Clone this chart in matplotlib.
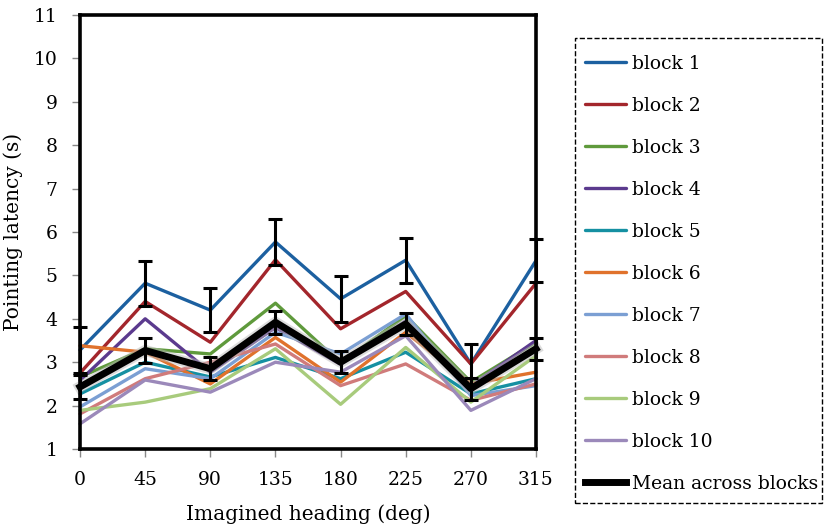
import matplotlib
matplotlib.use("Agg")
import matplotlib.pyplot as plt
import matplotlib.patheffects as pe
from matplotlib.patches import Rectangle

plt.rcParams['font.family'] = ['DejaVu Serif']

headings = [0, 45, 90, 135, 180, 225, 270, 315]

block_labels = ['block 1', 'block 2', 'block 3', 'block 4', 'block 5',
                'block 6', 'block 7', 'block 8', 'block 9', 'block 10']
block_colors = ['#1c60a0', '#a3262c', '#5f9a3c', '#5b3a8e', '#1590a2',
                '#e0722c', '#7b9fd3', '#d07b7b', '#a8cb7c', '#9b89ba']

block1 = [3.28, 4.82, 4.20, 5.77, 4.46, 5.35, 2.96, 5.34]
block2 = [2.75, 4.40, 3.46, 5.36, 3.77, 4.63, 2.96, 4.82]
block3 = [2.66, 3.31, 3.19, 4.36, 2.98, 4.07, 2.54, 3.46]
block4 = [2.58, 4.00, 2.77, 3.80, 2.95, 3.95, 2.45, 3.50]
block5 = [2.27, 3.00, 2.66, 3.11, 2.62, 3.23, 2.27, 2.62]
block6 = [3.38, 3.23, 2.50, 3.57, 2.54, 3.69, 2.50, 2.77]
block7 = [1.97, 2.85, 2.62, 3.69, 3.19, 4.11, 2.23, 2.46]
block8 = [1.81, 2.62, 3.00, 3.42, 2.46, 2.96, 2.12, 2.50]
block9 = [1.89, 2.08, 2.39, 3.31, 2.03, 3.34, 2.08, 3.15]
block10 = [1.58, 2.59, 2.31, 3.00, 2.77, 3.61, 1.89, 2.62]
blocks = [block1, block2, block3, block4, block5,
          block6, block7, block8, block9, block10]

mean_blocks = [2.43, 3.27, 2.85, 3.92, 3.00, 3.88, 2.39, 3.31]

block1_err = [0.52, 0.52, 0.51, 0.52, 0.53, 0.52, 0.46, 0.50]
mean_err = [0.28, 0.28, 0.27, 0.27, 0.25, 0.25, 0.25, 0.25]

fig = plt.figure(figsize=(8.26, 5.31), dpi=100)
ax = fig.add_axes([0.0969, 0.1544, 0.552, 0.8174])

for vals, lab, col in zip(blocks, block_labels, block_colors):
    ax.plot(headings, vals, color=col, linewidth=2.4, label=lab,
            solid_capstyle='round', clip_on=False)

ax.errorbar(headings, block1, yerr=block1_err, fmt='none', ecolor='black',
            elinewidth=2.2, capsize=5, capthick=2.2, clip_on=False)

ax.plot(headings, mean_blocks, color='black', linewidth=5, label='Mean across blocks',
        clip_on=False,
        path_effects=[pe.Stroke(linewidth=8, foreground='#bbbbbb', alpha=0.5), pe.Normal()])
ax.errorbar(headings, mean_blocks, yerr=mean_err, fmt='none', ecolor='black',
            elinewidth=2.2, capsize=5, capthick=2.2, clip_on=False)

ax.set_xlim(0, 315)
ax.set_ylim(1, 11)
ax.set_xticks(headings)
ax.set_yticks(range(1, 12))
ax.tick_params(axis='both', direction='out', length=6, width=1, color='#888888',
               labelsize=13.5, pad=10)
for s in ax.spines.values():
    s.set_linewidth(2.6)
    s.set_color('black')

ax.set_xlabel('Imagined heading (deg)', fontsize=14.5, labelpad=11)
ax.set_ylabel('Pointing latency (s)', fontsize=14.5, labelpad=8)

# dashed box around the legend, drawn separately so the padding can differ
fig.patches.append(Rectangle((0.6961, 0.0527), 0.299, 0.8757, transform=fig.transFigure,
                             fill=False, edgecolor='black', linestyle='--', linewidth=1.0))

leg = fig.legend(loc='upper left', bbox_to_anchor=(0.7082, 0.8965), fontsize=13.5,
                 frameon=False, handlelength=2.2, handletextpad=0.3,
                 labelspacing=1.28, borderpad=0, borderaxespad=0)
for line in leg.get_lines():
    line.set_path_effects([])

fig.savefig('out.png', dpi=100)
plt.close(fig)
